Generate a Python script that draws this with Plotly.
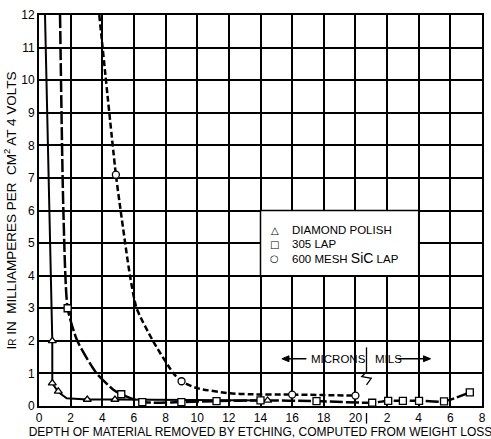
import plotly.graph_objects as go

# ---- data (x position: microns 0-20, then 20 + mils) ----
diamond_line_x = [0.38, 0.63, 0.76, 0.84, 0.84, 1.22, 1.75, 3.05, 4.8, 9.0, 14.45]
diamond_line_y = [12.0, 6.0, 3.0, 2.0, 0.70, 0.43, 0.24, 0.20, 0.20, 0.18, 0.17]
diamond_mk_x = [0.84, 0.84, 1.22, 3.05, 4.8, 14.45]
diamond_mk_y = [2.0, 0.70, 0.45, 0.20, 0.20, 0.17]

lap_line_x = [1.33, 1.54, 1.81, 2.42, 3.64, 4.7, 5.2, 6.53, 9.0, 11.22, 14.0, 17.54, 21.06, 22.07, 23.0, 24.02, 25.6, 27.23]
lap_line_y = [12.0, 6.0, 3.0, 2.0, 1.0, 0.5, 0.36, 0.12, 0.12, 0.15, 0.17, 0.15, 0.10, 0.16, 0.16, 0.16, 0.14, 0.42]
lap_mk_x = [1.81, 5.2, 6.53, 9.0, 11.22, 14.0, 17.54, 21.06, 22.07, 23.0, 24.02, 25.6, 27.23]
lap_mk_y = [3.0, 0.36, 0.12, 0.12, 0.15, 0.17, 0.15, 0.10, 0.16, 0.16, 0.16, 0.14, 0.42]

sic_line_x = [3.81, 4.86, 5.16, 5.75, 6.17, 7.2, 8.5, 9.01, 9.96, 12.07, 13.3, 16.0, 20.0]
sic_line_y = [12.0, 7.1, 6.0, 4.0, 3.0, 2.0, 1.0, 0.76, 0.55, 0.39, 0.36, 0.35, 0.32]
sic_mk_x = [4.86, 9.01, 16.0, 20.0]
sic_mk_y = [7.1, 0.76, 0.35, 0.32]

series_names = ["DIAMOND POLISH", "305 LAP",
                "600 MESH <span style='font-size:14px'>SiC</span> LAP"]
legend_symbols = ["△", "□", "○"]

tick_vals = [0, 2, 4, 6, 8, 10, 12, 14, 16, 18, 20, 22, 24, 26, 28]
tick_text = ["0", "2", "4", "6", "8", "10", "12", "14", "16", "18", "20", "2", "4", "6", "8"]
y_ticks = list(range(0, 13))

FONT = "Liberation Sans"
fig = go.Figure()

def line(x, y, dash, w, shape="linear"):
    fig.add_trace(go.Scatter(x=x, y=y, mode="lines", showlegend=False, hoverinfo="skip",
                             line=dict(color="black", width=w, dash=dash, shape=shape, smoothing=0.6)))

line(diamond_line_x, diamond_line_y, "solid", 2)
line(lap_line_x, lap_line_y, "13px,3px", 2.5, "spline")
line(sic_line_x, sic_line_y, "6px,3px", 2.5, "spline")

def marks(x, y, sym, name):
    fig.add_trace(go.Scatter(x=x, y=y, mode="markers", name=name, showlegend=False,
                             marker=dict(symbol=sym, size=7, color="white",
                                         line=dict(color="black", width=1.3))))

marks(diamond_mk_x, diamond_mk_y, "triangle-up", series_names[0])
marks(lap_mk_x, lap_mk_y, "square", series_names[1])
marks(sic_mk_x, sic_mk_y, "circle", series_names[2])

# legend box
fig.add_shape(type="rect", x0=14, x1=24, y0=4, y1=6, xref="x", yref="y",
              fillcolor="white", line=dict(color="black", width=1.5), layer="above")
legend_rows = [5.4, 4.97, 4.53]
for sym, name, yy in zip(legend_symbols, series_names, legend_rows):
    fig.add_annotation(x=14.9, y=yy, xref="x", yref="y", text=sym, showarrow=False,
                       font=dict(family="DejaVu Sans", size=10, color="black"))
    fig.add_annotation(x=15.85, y=yy, xref="x", yref="y", text=name, showarrow=False,
                       xanchor="left", font=dict(family=FONT, size=11.5, color="black"))

# break marker
fig.add_shape(type="line", x0=20.7, x1=20.7, y0=1.05, y1=1.8, xref="x", yref="y",
              line=dict(color="black", width=1.3), layer="above")
fig.add_shape(type="path", path="M 20.7 1.05 L 20.4 0.9 L 21.0 0.85 L 20.7 0.65",
              xref="x", yref="y", line=dict(color="black", width=1.3), layer="above")
fig.add_shape(type="line", x0=20.7, x1=20.7, y0=-0.018, y1=-0.045, xref="x", yref="paper",
              line=dict(color="black", width=1.3), layer="above")

# MICRONS / MILS labels with arrows
fig.add_annotation(x=17.05, y=1.45, text="MICRONS", showarrow=False, xanchor="left",
                   font=dict(family=FONT, size=11.5, color="black"))
fig.add_annotation(x=21.1, y=1.45, text="MILS", showarrow=False, xanchor="left",
                   font=dict(family=FONT, size=11.5, color="black"))
arrow_style = dict(xref="x", yref="y", line=dict(color="black", width=1.5), layer="above")
fig.add_shape(type="line", x0=15.7, x1=16.9, y0=1.45, y1=1.45, **arrow_style)
fig.add_shape(type="path", path="M 15.35 1.45 L 15.8 1.54 L 15.8 1.36 Z",
              fillcolor="black", xref="x", yref="y", line=dict(color="black", width=1), layer="above")
fig.add_shape(type="line", x0=22.7, x1=24.4, y0=1.45, y1=1.45, **arrow_style)
fig.add_shape(type="path", path="M 24.75 1.45 L 24.3 1.54 L 24.3 1.36 Z",
              fillcolor="black", xref="x", yref="y", line=dict(color="black", width=1), layer="above")

fig.update_layout(
    width=491, height=439,
    margin=dict(l=39, r=9, t=15, b=33),
    paper_bgcolor="white", plot_bgcolor="white",
    font=dict(family=FONT, size=11, color="black"),
    showlegend=False,
)
fig.update_xaxes(range=[0, 28], tickvals=tick_vals, ticktext=tick_text, automargin=False,
                 showgrid=True, gridcolor="black", gridwidth=1.5,
                 showline=True, linecolor="black", linewidth=2, mirror=True,
                 ticks="", zeroline=False, tickfont=dict(size=12),
                 title=dict(text="DEPTH OF MATERIAL REMOVED BY ETCHING, COMPUTED FROM WEIGHT LOSS",
                            font=dict(size=12), standoff=1))
fig.update_yaxes(range=[0, 12], tickvals=y_ticks, automargin=False,
                 showgrid=True, gridcolor="black", gridwidth=1.5,
                 showline=True, linecolor="black", linewidth=2, mirror=True,
                 ticks="", zeroline=False, tickfont=dict(size=12),
                 title=dict(text="I<span style='font-size:10px'>R</span> IN &nbsp;MILLIAMPERES PER &nbsp;CM<sup>2</sup> AT 4 VOLTS",
                            font=dict(size=13.5), standoff=2))

fig.write_html("out.html")
